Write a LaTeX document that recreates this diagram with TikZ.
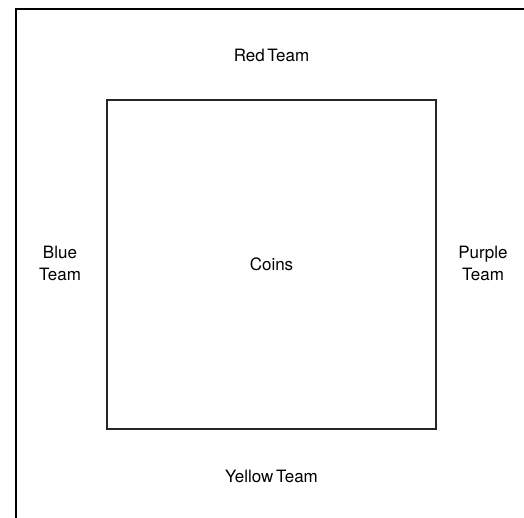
\documentclass[tikz,border=0pt]{standalone}
\usepackage{fontspec}
\setmainfont{TeX Gyre Heros}
\usetikzlibrary{positioning}

\begin{document}
\begin{tikzpicture}[
    x=1pt, y=-1pt,
    font=\fontsize{17}{21.5}\selectfont,
    frame/.style={draw=black, line width=2pt, minimum size=512pt, inner sep=0pt},
    pen/.style={draw=black!85, line width=1.4pt, minimum size=329pt, inner sep=0pt},
    team/.style={align=center, inner sep=0pt}
  ]
    \useasboundingbox (0,0) rectangle (524,517);

    \node[frame] (field) at (271.5,264.5) {};
    \node[pen] (coins) at (271.5,264.5) {Coins};

    \node[team] (red) at (271.5,55.5) {Red\hspace{0.15em}Team};
    \node[team] (yellow) at (271.5,476) {Yellow\hspace{0.15em}Team};
    \node[team] (blue) at (60,263.5) {Blue\\Team};
    \node[team] (purple) at (483,263.5) {Purple\\Team};
  \end{tikzpicture}
\end{document}
